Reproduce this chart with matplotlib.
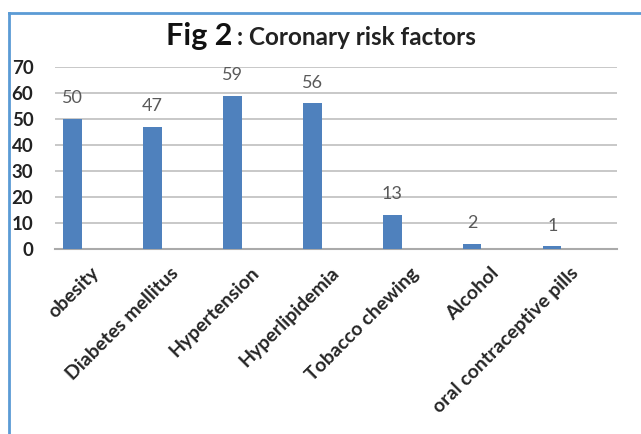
import matplotlib
matplotlib.use("Agg")
import matplotlib.pyplot as plt
from matplotlib.lines import Line2D

categories = ["obesity", "Diabetes mellitus", "Hypertension", "Hyperlipidemia",
              "Tobacco chewing", "Alcohol", "oral contraceptive pills"]
values = [50, 47, 59, 56, 13, 2, 1]
yticks = [0, 10, 20, 30, 40, 50, 60, 70]

plt.rcParams["font.family"] = ["Lato", "DejaVu Sans"]

W, H = 641, 434
fig = plt.figure(figsize=(W / 100, H / 100), dpi=100)
fig.patch.set_facecolor("white")

# plot area in pixel terms
left, right, top, bottom = 55, 617, 67, 249
ax = fig.add_axes([left / W, (H - bottom) / H, (right - left) / W, (bottom - top) / H])

x = list(range(len(categories)))
bar_color = "#4f81bd"
ax.bar(x, values, width=0.23, color=bar_color, zorder=3)

ax.set_ylim(0, 70)
ax.set_xlim(-0.22, 6.81)
ax.set_yticks(yticks)
ax.set_yticklabels([str(t) for t in yticks], fontsize=13.5, fontweight="bold", color="#222222")
ax.tick_params(axis="y", length=0, pad=15.5)
ax.set_xticks([])
ax.yaxis.grid(True, color="#c4c4c4", linewidth=1.3, zorder=0)
ax.set_axisbelow(True)
for s in ["top", "right", "left"]:
    ax.spines[s].set_visible(False)
ax.spines["bottom"].set_color("#aaaaaa")
ax.spines["bottom"].set_linewidth(1.5)

# value labels above each bar
for xi, v in zip(x, values):
    ax.annotate(str(v), (xi, v), xytext=(0, 15), textcoords="offset points",
                ha="center", va="center", fontsize=13, color="#595959")

# rotated category labels
for xi, name in zip(x, categories):
    ax.text(xi + 0.22, -0.085, name, transform=ax.get_xaxis_transform(),
            rotation=45, rotation_mode="anchor", ha="right", va="top",
            fontsize=14, fontweight="bold", color="#262626")

# title
fig.text(232 / W, 1 - 45 / H, "Fig 2", ha="right", va="baseline",
         fontsize=22, fontweight="bold", color="#111111")
fig.text(237 / W, 1 - 45 / H, ": Coronary risk factors", ha="left", va="baseline",
         fontsize=17.5, fontweight="bold", color="#222222")

# frame edges
frame_color = "#5b9bd5"
fig.add_artist(Line2D([8.5 / W, 1.0], [1 - 13 / H, 1 - 13 / H], color=frame_color,
                      linewidth=2, transform=fig.transFigure))
fig.add_artist(Line2D([8.5 / W, 8.5 / W], [0, 1 - 13 / H], color=frame_color,
                      linewidth=2, transform=fig.transFigure))

fig.savefig("out.png", dpi=100)
